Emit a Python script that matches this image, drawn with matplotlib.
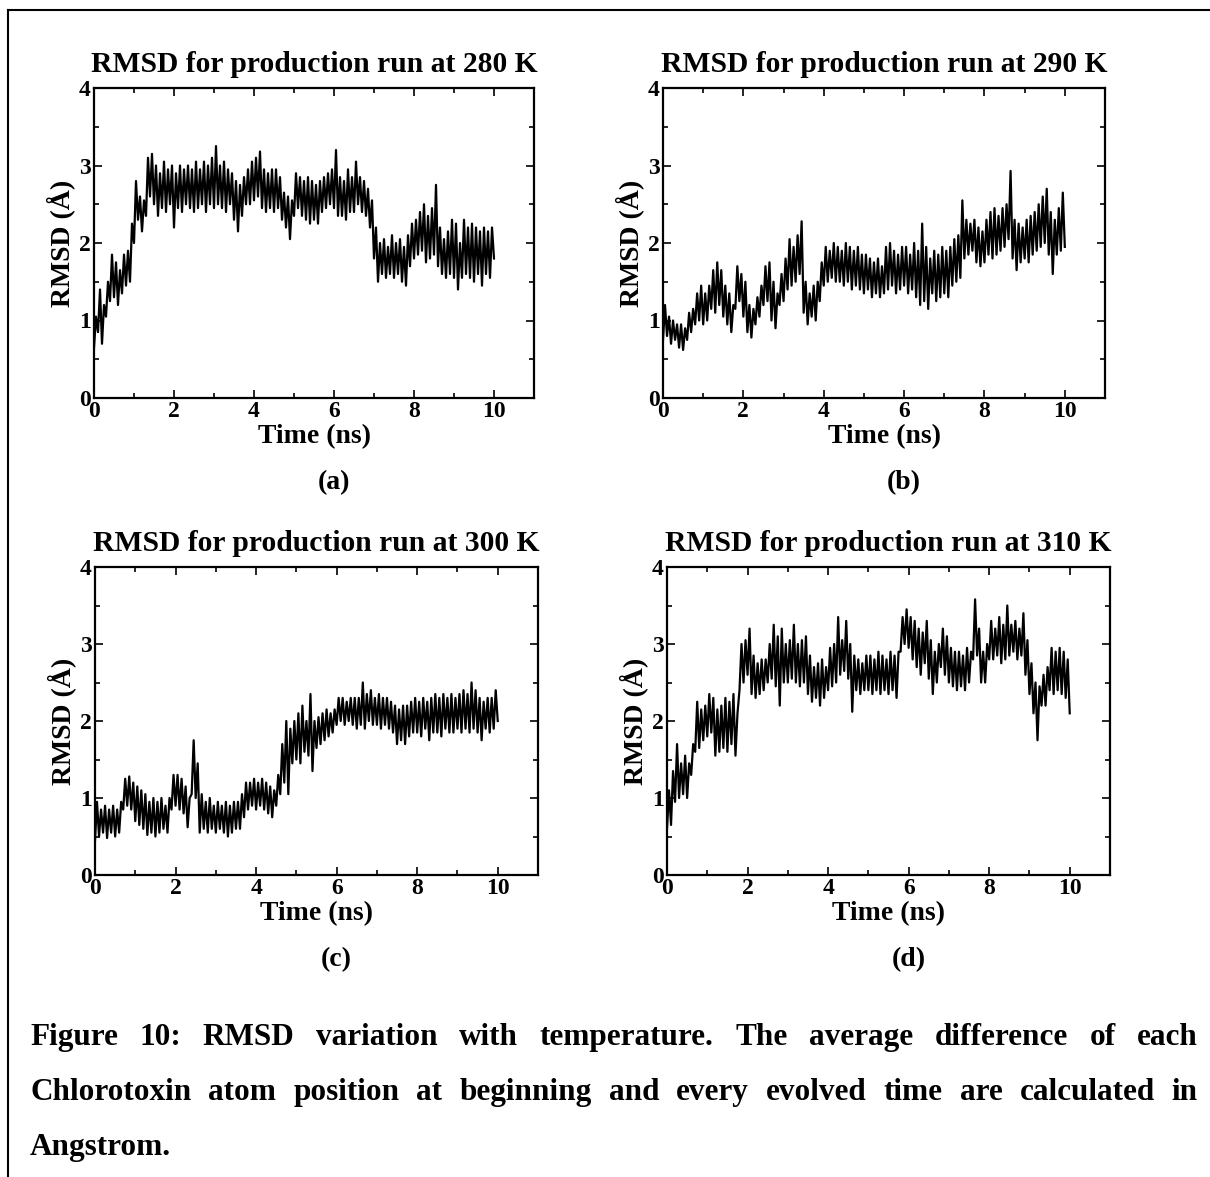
import matplotlib
matplotlib.use("Agg")
import matplotlib.pyplot as plt
from matplotlib.lines import Line2D
from matplotlib.ticker import MultipleLocator
import numpy as np

# RMSD traces every 0.05 ns (alternating low / high side of the band)
time_ns = np.linspace(0, 10, 201)

rmsd_280 = [
    0.65, 1.05, 0.85, 1.4, 0.7, 1.2, 1.05, 1.5, 1.25, 1.85,
    1.3, 1.75, 1.2, 1.65, 1.35, 1.85, 1.45, 1.9, 1.5, 2.25,
    2.0, 2.8, 2.3, 2.6, 2.15, 2.55, 2.35, 3.1, 2.6, 3.15,
    2.5, 3.0, 2.35, 2.9, 2.45, 3.05, 2.4, 2.95, 2.5, 3.0,
    2.2, 2.9, 2.45, 3.0, 2.4, 2.95, 2.5, 3.0, 2.45, 2.95,
    2.4, 3.05, 2.45, 2.95, 2.5, 3.05, 2.4, 3.0, 2.5, 3.1,
    2.45, 3.25, 2.5, 3.0, 2.45, 3.05, 2.4, 2.95, 2.5, 2.9,
    2.3, 2.8, 2.15, 2.75, 2.35, 2.85, 2.5, 2.95, 2.5, 3.05,
    2.55, 3.1, 2.6, 3.18, 2.45, 2.95, 2.4, 2.9, 2.45, 2.95,
    2.4, 2.95, 2.45, 2.85, 2.3, 2.65, 2.2, 2.6, 2.05, 2.55,
    2.35, 2.9, 2.45, 2.85, 2.35, 2.8, 2.3, 2.85, 2.25, 2.8,
    2.3, 2.75, 2.25, 2.8, 2.4, 2.85, 2.45, 2.9, 2.5, 2.95,
    2.45, 3.2, 2.35, 2.85, 2.35, 2.8, 2.3, 2.95, 2.4, 2.85,
    2.4, 3.05, 2.5, 2.85, 2.4, 2.8, 2.35, 2.7, 2.2, 2.55,
    1.8, 2.2, 1.5, 2.0, 1.6, 2.05, 1.55, 1.95, 1.6, 2.1,
    1.55, 2.0, 1.6, 2.05, 1.5, 1.95, 1.45, 2.1, 1.7, 2.25,
    1.8, 2.3, 1.85, 2.4, 1.9, 2.5, 1.75, 2.35, 1.8, 2.45,
    1.85, 2.75, 1.7, 2.2, 1.6, 2.05, 1.55, 2.15, 1.6, 2.3,
    1.55, 2.25, 1.4, 2.0, 1.55, 2.3, 1.6, 2.2, 1.55, 2.25,
    1.5, 2.2, 1.6, 2.15, 1.45, 2.2, 1.6, 2.15, 1.55, 2.2,
    1.8,
]

rmsd_290 = [
    0.75, 1.2, 0.8, 1.05, 0.7, 1.0, 0.75, 0.95, 0.65, 0.95,
    0.62, 0.9, 0.75, 1.1, 0.85, 1.15, 0.95, 1.35, 1.0, 1.45,
    0.95, 1.35, 1.0, 1.45, 1.15, 1.65, 1.1, 1.75, 1.2, 1.65,
    1.05, 1.45, 0.95, 1.35, 0.85, 1.2, 1.15, 1.7, 1.25, 1.6,
    1.05, 1.5, 0.85, 1.2, 0.78, 1.15, 0.95, 1.3, 1.05, 1.45,
    1.2, 1.7, 1.25, 1.75, 1.0, 1.5, 0.9, 1.35, 1.2, 1.6,
    1.25, 1.8, 1.4, 2.05, 1.45, 1.95, 1.5, 2.1, 1.6, 2.28,
    1.1, 1.5, 0.95, 1.35, 1.05, 1.45, 1.0, 1.5, 1.25, 1.75,
    1.45, 1.95, 1.5, 1.9, 1.55, 2.0, 1.5, 1.95, 1.5, 1.9,
    1.45, 2.0, 1.5, 1.95, 1.4, 1.9, 1.45, 1.95, 1.4, 1.85,
    1.35, 1.85, 1.4, 1.8, 1.3, 1.75, 1.35, 1.8, 1.3, 1.7,
    1.35, 1.95, 1.4, 2.0, 1.45, 1.9, 1.35, 1.85, 1.4, 1.95,
    1.45, 1.95, 1.35, 1.85, 1.4, 2.0, 1.3, 1.9, 1.2, 2.25,
    1.25, 1.95, 1.15, 1.8, 1.35, 1.9, 1.25, 1.85, 1.3, 1.95,
    1.35, 1.9, 1.3, 1.95, 1.45, 2.05, 1.5, 2.1, 1.55, 2.55,
    1.8, 2.3, 1.85, 2.25, 1.9, 2.3, 1.75, 2.2, 1.7, 2.15,
    1.75, 2.3, 1.85, 2.4, 1.8, 2.45, 1.85, 2.35, 1.9, 2.45,
    1.95, 2.5, 2.05, 2.93, 1.8, 2.3, 1.65, 2.25, 1.75, 2.2,
    1.8, 2.3, 1.75, 2.35, 1.85, 2.4, 1.9, 2.5, 1.95, 2.6,
    2.0, 2.7, 1.85, 2.4, 1.6, 2.3, 1.85, 2.45, 1.9, 2.65,
    1.95,
]

rmsd_300 = [
    0.45, 0.95, 0.5, 0.85, 0.55, 0.9, 0.48, 0.85, 0.55, 0.9,
    0.5, 0.85, 0.55, 0.95, 0.85, 1.25, 0.9, 1.28, 0.85, 1.2,
    0.7, 1.15, 0.65, 1.1, 0.6, 1.05, 0.52, 0.95, 0.55, 1.0,
    0.5, 0.95, 0.55, 1.0, 0.6, 0.9, 0.55, 1.0, 0.85, 1.3,
    0.9, 1.3, 0.85, 1.25, 0.8, 1.15, 0.62, 1.0, 1.05, 1.75,
    1.0, 1.45, 0.55, 1.05, 0.6, 0.95, 0.55, 1.0, 0.6, 0.9,
    0.55, 0.95, 0.6, 0.9, 0.55, 0.95, 0.5, 0.9, 0.55, 0.95,
    0.6, 0.95, 0.6, 1.05, 0.75, 1.2, 0.85, 1.2, 0.9, 1.25,
    0.85, 1.2, 0.9, 1.25, 0.85, 1.2, 0.8, 1.15, 0.75, 1.1,
    0.9, 1.3, 1.05, 1.7, 1.2, 2.0, 1.05, 1.9, 1.45, 2.0,
    1.5, 2.1, 1.45, 2.2, 1.6, 2.0, 1.55, 2.35, 1.35, 2.0,
    1.65, 2.05, 1.7, 2.1, 1.75, 2.15, 1.8, 2.1, 1.85, 2.15,
    1.95, 2.3, 2.0, 2.3, 1.95, 2.25, 2.0, 2.3, 1.95, 2.3,
    1.9, 2.3, 1.95, 2.5, 1.9, 2.35, 2.0, 2.4, 1.95, 2.3,
    1.95, 2.35, 1.9, 2.3, 1.95, 2.3, 1.9, 2.25, 1.85, 2.2,
    1.7, 2.15, 1.75, 2.2, 1.7, 2.2, 1.8, 2.25, 1.85, 2.3,
    1.85, 2.25, 1.8, 2.3, 1.9, 2.25, 1.75, 2.3, 1.85, 2.35,
    1.85, 2.3, 1.8, 2.35, 1.9, 2.3, 1.85, 2.35, 1.85, 2.3,
    1.9, 2.35, 1.85, 2.4, 1.9, 2.35, 1.85, 2.5, 1.9, 2.4,
    1.85, 2.3, 1.75, 2.25, 1.9, 2.3, 1.85, 2.3, 1.9, 2.4,
    2.0,
]

rmsd_310 = [
    0.6, 1.1, 0.65, 1.35, 0.95, 1.7, 1.0, 1.45, 1.05, 1.55,
    1.0, 1.45, 1.3, 1.7, 1.6, 2.25, 1.65, 2.15, 1.75, 2.2,
    1.8, 2.35, 1.85, 2.3, 1.55, 2.15, 1.6, 2.2, 1.65, 2.3,
    1.6, 2.25, 1.7, 2.35, 1.55, 2.1, 2.4, 3.0, 2.5, 3.05,
    2.6, 3.2, 2.35, 2.85, 2.3, 2.75, 2.35, 2.8, 2.4, 2.8,
    2.5, 3.0, 2.55, 3.25, 2.45, 3.1, 2.2, 3.2, 2.5, 3.0,
    2.5, 3.05, 2.55, 3.25, 2.5, 3.0, 2.45, 3.05, 2.5, 3.1,
    2.35, 2.85, 2.25, 2.7, 2.3, 2.75, 2.2, 2.8, 2.3, 2.7,
    2.4, 2.95, 2.45, 3.0, 2.5, 3.35, 2.6, 3.05, 2.65, 3.3,
    2.55, 3.0, 2.12, 2.85, 2.4, 2.8, 2.35, 2.75, 2.4, 2.85,
    2.4, 2.85, 2.35, 2.8, 2.4, 2.9, 2.35, 2.85, 2.4, 2.8,
    2.35, 2.9, 2.4, 2.85, 2.3, 2.9, 2.9, 3.35, 3.0, 3.45,
    2.95, 3.35, 2.8, 3.3, 2.7, 3.2, 2.6, 3.15, 2.75, 3.3,
    2.55, 3.05, 2.35, 2.9, 2.5, 3.0, 2.7, 3.2, 2.6, 3.1,
    2.5, 2.95, 2.45, 2.9, 2.4, 2.9, 2.45, 2.85, 2.4, 2.95,
    2.5, 2.9, 2.8, 3.58, 2.85, 3.2, 2.5, 2.9, 2.5, 3.0,
    2.8, 3.3, 2.8, 3.2, 2.85, 3.35, 2.75, 3.25, 2.8, 3.5,
    2.85, 3.25, 2.9, 3.3, 2.8, 3.2, 2.85, 3.4, 2.6, 3.05,
    2.35, 2.75, 2.1, 2.5, 1.75, 2.45, 2.2, 2.6, 2.2, 2.7,
    2.4, 2.95, 2.35, 2.9, 2.4, 2.95, 2.35, 2.9, 2.3, 2.8,
    2.1,
]

temperatures = ["280", "290", "300", "310"]
panel_letters = ["(a)", "(b)", "(c)", "(d)"]
series = [rmsd_280, rmsd_290, rmsd_300, rmsd_310]

caption_lines = [
    "Figure 10: RMSD variation with temperature. The average difference of each",
    "Chlorotoxin atom position at beginning and every evolved time are calculated in",
    "Angstrom.",
]

W, H = 1210, 1177
plt.rcParams['font.family'] = ['Liberation Serif', 'DejaVu Serif']
plt.rcParams['font.weight'] = 'bold'

fig = plt.figure(figsize=(W / 100, H / 100), dpi=100)

# axes boxes in pixels: left, top, right, bottom
boxes = [(94, 88, 534, 398), (663, 88, 1105, 398),
         (95, 567, 538, 875), (667, 567, 1110, 875)]

for box, temp, letter, vals in zip(boxes, temperatures, panel_letters, series):
    l, t, r, b = box
    ax = fig.add_axes([l / W, 1 - b / H, (r - l) / W, (b - t) / H])
    ax.plot(time_ns, vals, color='black', lw=1.6)
    ax.set_xlim(0, 11)
    ax.set_ylim(0, 4)
    ax.xaxis.set_minor_locator(MultipleLocator(1))
    ax.yaxis.set_major_locator(MultipleLocator(1))
    ax.yaxis.set_minor_locator(MultipleLocator(0.5))
    ax.set_xticks([0, 2, 4, 6, 8, 10])
    for s in ax.spines.values():
        s.set_linewidth(1.6)
    ax.tick_params(which='both', direction='in', top=True, right=True,
                   width=1.2, labelsize=17)
    ax.tick_params(which='major', length=5.5, pad=2.5)
    ax.tick_params(which='minor', length=3.5)
    for lab in ax.get_xticklabels() + ax.get_yticklabels():
        lab.set_fontweight('bold')
    hpx = b - t
    ax.text(0.5, 1 + 16 / hpx, "RMSD for production run at %s K" % temp,
            transform=ax.transAxes, ha='center', va='baseline', fontsize=21.3)
    ax.text(0.5, -39 / hpx, "Time (ns)", transform=ax.transAxes,
            ha='center', va='center', fontsize=20)
    ax.text(-0.075, 0.5, "RMSD (Å)", transform=ax.transAxes, rotation=90,
            ha='center', va='center', fontsize=20)
    ax.text(0.545, -85 / hpx, letter, transform=ax.transAxes,
            ha='center', va='center', fontsize=20)

# page frame (top and left rules)
fig.add_artist(Line2D([8 / W, 1], [1 - 10 / H, 1 - 10 / H], color='black', lw=1.5))
fig.add_artist(Line2D([8 / W, 8 / W], [1 - 10 / H, 0], color='black', lw=1.5))

# justified caption
renderer = fig.canvas.get_renderer()
x_left, x_right = 30, 1198
baselines = [1045, 1100, 1155]
for i, (line, yb) in enumerate(zip(caption_lines, baselines)):
    words = line.split()
    txts = [fig.text(0, 1 - yb / H, w, fontsize=22.5, va='baseline', ha='left')
            for w in words]
    widths = [tx.get_window_extent(renderer).width for tx in txts]
    if i < len(caption_lines) - 1 and len(words) > 1:
        gap = (x_right - x_left - sum(widths)) / (len(words) - 1)
    else:
        gap = 6
    x = x_left
    for tx, w in zip(txts, widths):
        tx.set_x(x / W)
        x += w + gap

fig.savefig("out.png", dpi=100)
